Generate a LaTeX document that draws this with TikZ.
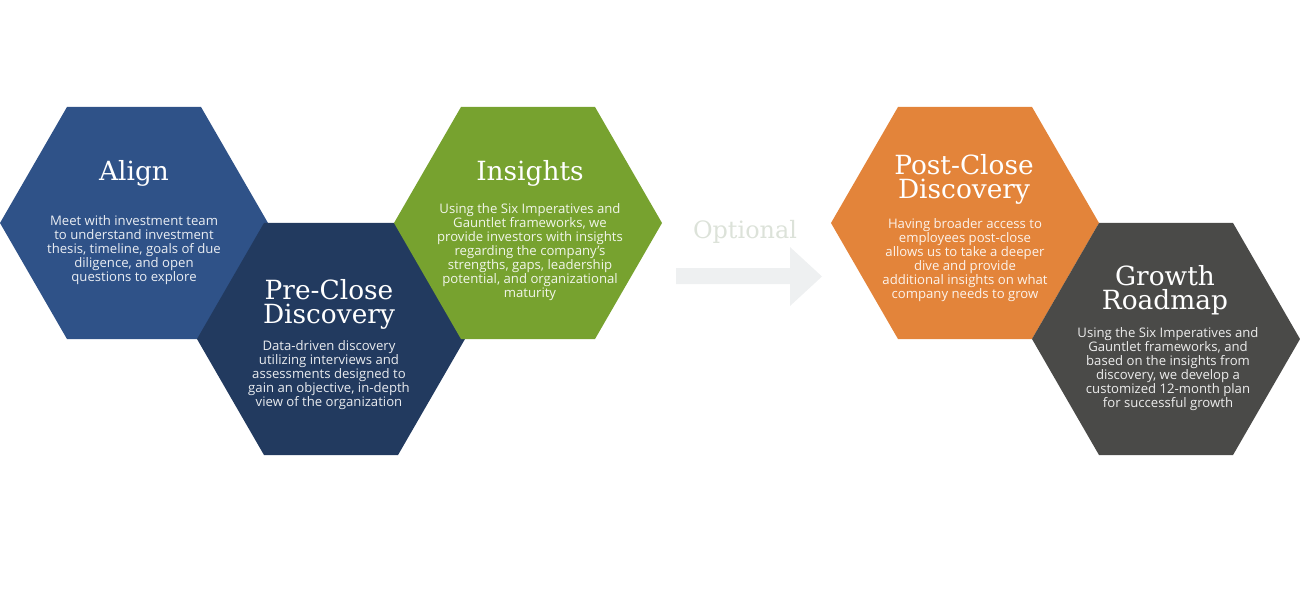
\documentclass[tikz,border=0pt]{standalone}
\usepackage{fontspec}
\setmainfont{Open Sans}
\newfontfamily\titlefont{DejaVu Serif}
\usetikzlibrary{shapes.geometric}
\definecolor{alignc}{HTML}{2F5288}
\definecolor{prec}{HTML}{223A5F}
\definecolor{insc}{HTML}{77A22F}
\definecolor{postc}{HTML}{E3843A}
\definecolor{growc}{HTML}{4A4A48}
\definecolor{arrowc}{HTML}{EEF0F1}
\definecolor{optc}{HTML}{DCE2D9}
\tikzset{
  hexa/.style={regular polygon, regular polygon sides=6, minimum size=268bp,
    inner sep=0pt, outer sep=0pt, draw=none},
  ttl/.style={text=white, font=\titlefont\fontsize{26.5}{24}\selectfont,
    align=center, inner sep=0pt},
  bdy/.style={text=white, text opacity=0.9, font=\fontsize{13.2}{14}\selectfont,
    align=center, inner sep=0pt},
}
\begin{document}
\begin{tikzpicture}[x=1bp,y=-1bp]
\useasboundingbox (0,0) rectangle (1300,600);

% Align
\node[hexa, fill=alignc] (alignhex) at (134,223) {};
\node[ttl] (aligntitle) at (134,173) {Align};
\node[bdy] (alignbody) at (134,250) {Meet with investment team\\to understand investment\\thesis, timeline, goals of due\\diligence, and open\\questions to explore};

% Pre-Close Discovery
\node[hexa, fill=prec] (prehex) at (331,339) {};
\node[ttl] (pretitle) at (329,304) {Pre-Close\\Discovery};
\node[bdy] (prebody) at (329,375) {Data-driven discovery\\utilizing interviews and\\assessments designed to\\gain an objective, in-depth\\view of the organization};

% Insights
\node[hexa, fill=insc] (inshex) at (528,223) {};
\node[ttl] (institle) at (530,173) {Insights};
\node[bdy] (insbody) at (530,252) {Using the Six Imperatives and\\Gauntlet frameworks, we\\provide investors with insights\\regarding the company's\\strengths, gaps, leadership\\potential, and organizational\\maturity};

% Optional arrow
\fill[arrowc] (676,268) -- (790,268) -- (790,247) -- (822,276.5) -- (790,306) -- (790,284) -- (676,284) -- cycle;
\node[text=optc, font=\titlefont\fontsize{24}{24}\selectfont, inner sep=0pt] (optional) at (745,232) {Optional};

% Post-Close Discovery
\node[hexa, fill=postc] (posthex) at (965,223) {};
\node[ttl] (posttitle) at (964,179) {Post-Close\\Discovery};
\node[bdy] (postbody) at (965,260) {Having broader access to\\employees post-close\\allows us to take a deeper\\dive and provide\\additional insights on what\\company needs to grow};

% Growth Roadmap
\node[hexa, fill=growc] (growhex) at (1166,339) {};
\node[ttl] (growtitle) at (1165,290) {Growth\\Roadmap};
\node[bdy] (growbody) at (1168,369) {Using the Six Imperatives and\\Gauntlet frameworks, and\\based on the insights from\\discovery, we develop a\\customized 12-month plan\\for successful growth};
\end{tikzpicture}
\end{document}
